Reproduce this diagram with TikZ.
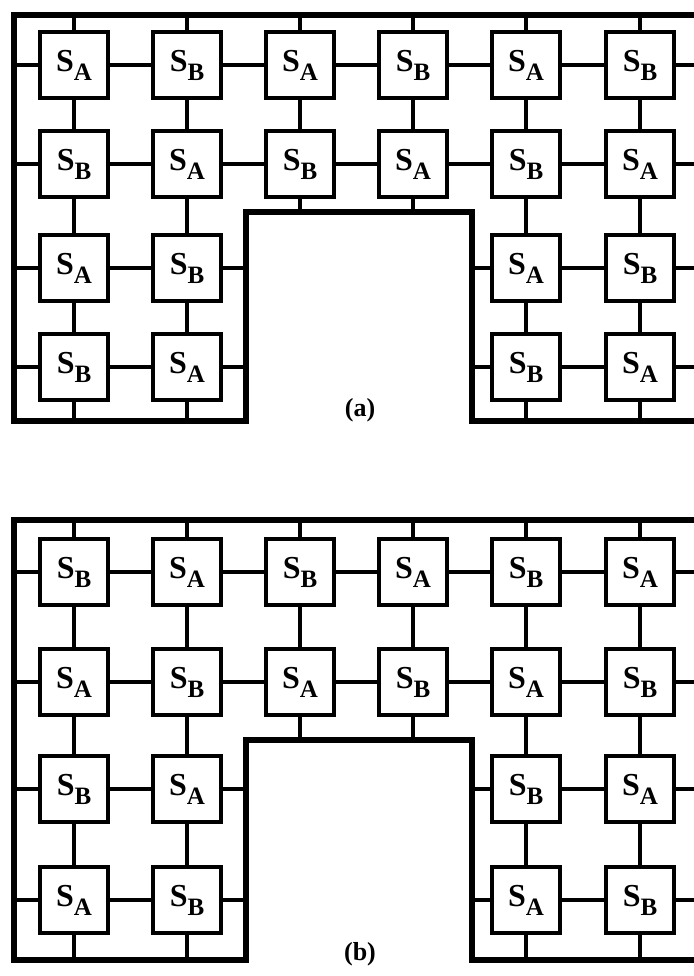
\documentclass[tikz,border=0pt]{standalone}
\usepackage{fontspec}
\setmainfont{Liberation Serif}
\tikzset{
  x=1pt, y=-1pt,
  cell/.style={draw, line width=4pt, fill=white, minimum width=68pt, minimum height=66pt, inner sep=0pt, font=\bfseries},
  link/.style={line width=3.3pt},
  border/.style={line width=5.5pt, line join=miter},
  caption/.style={font=\bfseries\fontsize{26}{26}\selectfont}
}
\newcommand\slabel[1]{{\fontsize{32}{32}\selectfont S}\raisebox{-9pt}{\fontsize{25}{25}\selectfont #1}}
% #1 prefix, #2 top, #3 bottom, #4 cutout top, #5-#8 row y, #9 parity
\newcommand\drawpanel[9]{%
  \coordinate (#1L) at (14,0);
  \coordinate (#1CL) at (246,0);
  \coordinate (#1CR) at (472,0);
  \coordinate (#1R) at (700,0);
  \coordinate (#1T) at (0,#2);
  \coordinate (#1B) at (0,#3);
  \coordinate (#1CT) at (0,#4);
  % cells
  \foreach \r in {1,2}{
    \foreach \c in {1,...,6}{
      \pgfmathsetmacro\xx{{74,187,300,413,526,640}[\c-1]}
      \pgfmathsetmacro\yy{{#5,#6,#7,#8}[\r-1]}
      \pgfmathtruncatemacro\pp{mod(\r+\c+#9,2)}
      \node[cell] (#1-\r-\c) at (\xx,\yy) {\ifnum\pp=0 \slabel{A}\else\slabel{B}\fi};
    }
  }
  \foreach \r in {3,4}{
    \foreach \c in {1,2,5,6}{
      \pgfmathsetmacro\xx{{74,187,300,413,526,640}[\c-1]}
      \pgfmathsetmacro\yy{{#5,#6,#7,#8}[\r-1]}
      \pgfmathtruncatemacro\pp{mod(\r+\c+#9,2)}
      \node[cell] (#1-\r-\c) at (\xx,\yy) {\ifnum\pp=0 \slabel{A}\else\slabel{B}\fi};
    }
  }
  % horizontal links
  \foreach \r in {1,2}{
    \draw[link] (#1-\r-1.west) -- (#1-\r-1.west -| #1L);
    \foreach \c [evaluate=\c as \cn using int(\c+1)] in {1,...,5}{
      \draw[link] (#1-\r-\c.east) -- (#1-\r-\cn.west);
    }
    \draw[link] (#1-\r-6.east) -- (#1-\r-6.east -| #1R);
  }
  \foreach \r in {3,4}{
    \draw[link] (#1-\r-1.west) -- (#1-\r-1.west -| #1L);
    \draw[link] (#1-\r-1.east) -- (#1-\r-2.west);
    \draw[link] (#1-\r-2.east) -- (#1-\r-2.east -| #1CL);
    \draw[link] (#1-\r-5.west) -- (#1-\r-5.west -| #1CR);
    \draw[link] (#1-\r-5.east) -- (#1-\r-6.west);
    \draw[link] (#1-\r-6.east) -- (#1-\r-6.east -| #1R);
  }
  % vertical links
  \foreach \c in {1,...,6}{
    \draw[link] (#1-1-\c.north) -- (#1-1-\c.north |- #1T);
    \draw[link] (#1-1-\c.south) -- (#1-2-\c.north);
  }
  \foreach \c in {3,4}{
    \draw[link] (#1-2-\c.south) -- (#1-2-\c.south |- #1CT);
  }
  \foreach \c in {1,2,5,6}{
    \draw[link] (#1-2-\c.south) -- (#1-3-\c.north);
    \draw[link] (#1-3-\c.south) -- (#1-4-\c.north);
    \draw[link] (#1-4-\c.south) -- (#1-4-\c.south |- #1B);
  }
  % border
  \draw[border] (#1R |- #1T) -- (#1L |- #1T) -- (#1L |- #1B) -- (#1CL |- #1B)
    -- (#1CL |- #1CT) -- (#1CR |- #1CT) -- (#1CR |- #1B) -- (#1R |- #1B);
}
\begin{document}
\begin{tikzpicture}
\useasboundingbox[fill=white] (0,0) rectangle (693,976);
\drawpanel{a}{15}{421}{212}{65}{164}{268}{367}{0}
\drawpanel{b}{520}{960}{740}{572}{682}{789}{900}{1}
\node[caption] (capa) at (360,410) {(a)};
\node[caption] (capb) at (360,954) {(b)};
\end{tikzpicture}
\end{document}
